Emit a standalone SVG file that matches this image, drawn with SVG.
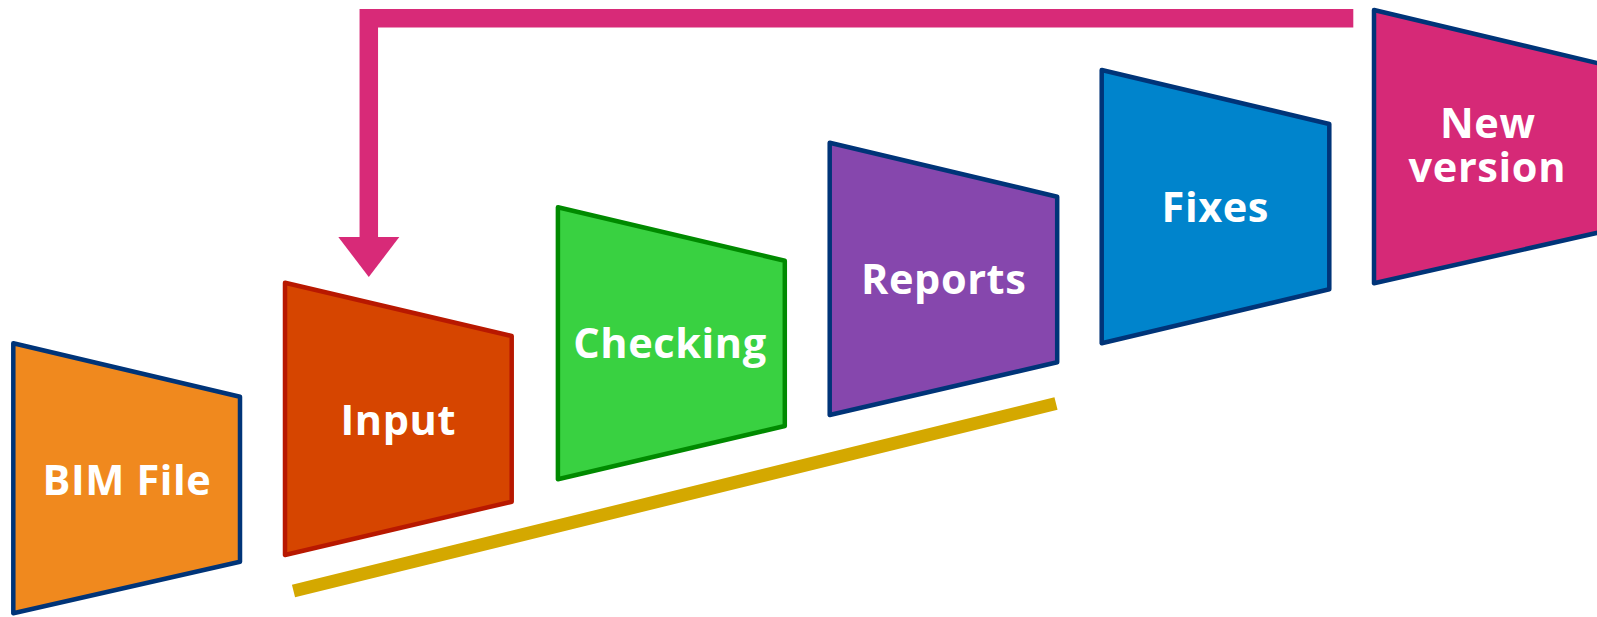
<svg xmlns="http://www.w3.org/2000/svg" width="1597" height="617" viewBox="0 0 1597 617">
  <style>
    .node polygon { stroke-width: 4.5; stroke-linejoin: round; }
    .lbl { font-family: "Open Sans", "Noto Sans", "DejaVu Sans", sans-serif; font-weight: bold; font-size: 41.5px; letter-spacing: 0.6px; fill: #ffffff; text-anchor: middle; }
    .navy { stroke: #003478; }
  </style>
  <defs>
    <marker id="head" markerUnits="userSpaceOnUse" viewBox="0 -31 41 62" refX="0" refY="0" markerWidth="41" markerHeight="62" orient="auto">
      <path d="M0,-30.5 L40,0 L0,30.5 Z" fill="#D82A78"/>
    </marker>
  </defs>
  <rect width="1597" height="617" fill="#ffffff"/>

  <g id="connectors">
    <path d="M1353.3,18.3 H368.8 V237" fill="none" stroke="#D82A78" stroke-width="18.5" stroke-linejoin="miter" marker-end="url(#head)"/>
    <line x1="293.5" y1="591" x2="1056" y2="403.5" stroke="#D4A800" stroke-width="13"/>
  </g>

  <g id="node-bim" class="node">
    <polygon points="13.3,343.3 240,396.7 240,561.7 13.3,613.3" fill="#F0891E" class="navy"/>
    <text class="lbl" x="127" y="495">BIM File</text>
  </g>
  <g id="node-input" class="node">
    <polygon points="285,282.7 511.7,336 511.7,501.7 285,555" fill="#D64500" stroke="#B81800"/>
    <text class="lbl" x="398.3" y="435">Input</text>
  </g>
  <g id="node-checking" class="node">
    <polygon points="557.9,207.3 784.8,260.7 784.8,426 557.9,479.3" fill="#39D141" stroke="#008A00"/>
    <text class="lbl" x="670" y="358">Checking</text>
  </g>
  <g id="node-reports" class="node">
    <polygon points="829.7,142.7 1057.2,196.7 1057.2,362.3 829.7,415" fill="#8647AD" class="navy"/>
    <text class="lbl" x="943.7" y="294">Reports</text>
  </g>
  <g id="node-fixes" class="node">
    <polygon points="1101.7,70 1329.3,124 1329.3,289.3 1101.7,343.3" fill="#0084CC" class="navy"/>
    <text class="lbl" x="1215.3" y="221.7">Fixes</text>
  </g>
  <g id="node-newversion" class="node">
    <polygon points="1374,10 1601,64 1601,232 1374,283.3" fill="#D62977" class="navy"/>
    <text class="lbl" x="1487.8" y="138">New</text>
    <text class="lbl" x="1487.3" y="181.7">version</text>
  </g>
</svg>
